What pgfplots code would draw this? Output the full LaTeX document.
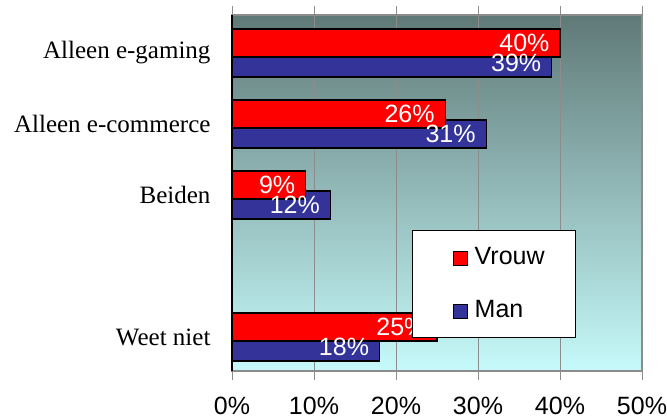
\documentclass[border=0pt]{standalone}
\usepackage{pgfplots}
\pgfplotsset{compat=1.18}
\usepackage{fontspec}
\setmainfont{Liberation Sans}
\newfontfamily\seriffont{Liberation Serif}
\definecolor{vrouw}{HTML}{FF0000}
\definecolor{man}{HTML}{333399}
\definecolor{bgtop}{HTML}{5F7977}
\definecolor{bgbot}{HTML}{C6FAFA}
\definecolor{gridc}{HTML}{8C8C8C}
\newcommand\chartfont{\fontsize{25}{30}\selectfont}

\begin{document}
\begin{tikzpicture}
\begin{axis}[
  scale only axis,
  width=410pt, height=356pt,
  xbar,
  bar width=28pt,
  xmin=0, xmax=50,
  ymin=-0.48, ymax=4.535,
  xtick={0,10,20,30,40,50},
  xticklabels={0\%,10\%,20\%,30\%,40\%,50\%},
  ytick={0,2,3,4},
  yticklabels={Weet niet,Beiden,Alleen e-commerce,Alleen e-gaming},
  yticklabel style={font=\seriffont\chartfont, xshift=-9pt},
  xticklabel style={font=\chartfont, yshift=-14pt},
  y tick style={draw=none},
  x tick style={gridc, line width=0.8pt},
  tick align=outside,
  major tick length=9pt,
  xmajorgrids=true,
  grid style={gridc, line width=0.8pt},
  axis line style={gridc, line width=1.2pt},
  axis background/.style={shade, top color=bgtop, bottom color=bgbot},
  nodes near coords={\pgfmathprintnumber[assume math mode=true]{\pgfplotspointmeta}\%},
  every node near coord/.append style={anchor=east, white, font=\chartfont, inner sep=0pt, xshift=-10pt},
  reverse legend,
  legend image code/.code={
    \path (0pt,-24pt) (30pt,22pt);
    \draw[#1, draw=black, line width=1pt] (11pt,-9pt) rectangle (25pt,5pt);},
  legend style={draw=black, fill=white, line width=1pt, font=\chartfont,
    at={(0.439,0.093)}, anchor=south west,
    inner xsep=29pt, inner ysep=3pt, row sep=6pt, cells={anchor=west}},
  clip=false,
]
\addplot[fill=man, draw=black, line width=1.2pt, bar shift=-10pt] coordinates {
  (39,4) (31,3) (12,2) (18,0)};
\addlegendentry{Man}
\addplot[fill=vrouw, draw=black, line width=1.2pt, bar shift=10pt] coordinates {
  (40,4) (26,3) (9,2) (25,0)};
\addlegendentry{Vrouw}
\draw[black, line width=1.2pt] (rel axis cs:0,0) -- (rel axis cs:0,1);
\end{axis}
\pgfresetboundingbox
\path[use as bounding box] ([xshift=-232pt,yshift=-48pt]current axis.south west)
  rectangle ([xshift=25pt,yshift=15pt]current axis.north east);
\end{tikzpicture}
\end{document}
